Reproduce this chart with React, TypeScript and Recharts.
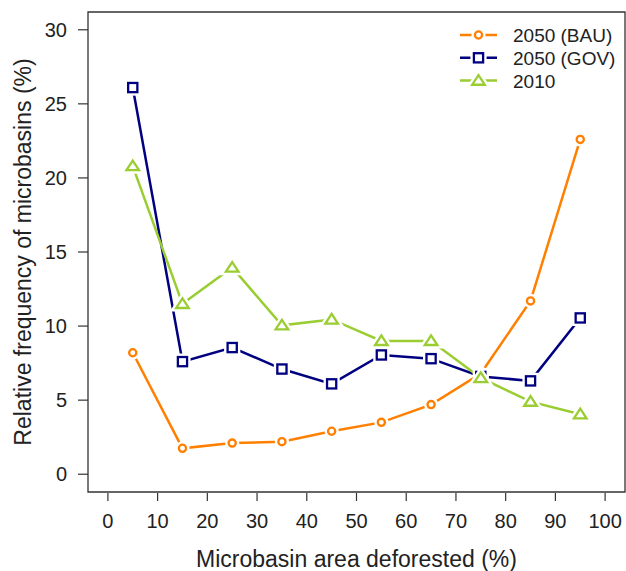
import { LineChart, Line, XAxis, YAxis, ReferenceArea, Label } from "recharts";

const xMid = [5, 15, 25, 35, 45, 55, 65, 75, 85, 95];
const bau = [8.2, 1.75, 2.1, 2.2, 2.9, 3.5, 4.7, 6.8, 11.7, 22.6];
const gov = [26.1, 7.6, 8.55, 7.1, 6.1, 8.05, 7.8, 6.6, 6.3, 10.55];
const y2010 = [20.8, 11.5, 13.95, 10.05, 10.45, 9.0, 9.0, 6.5, 4.9, 4.05];

const xTicks = [0, 10, 20, 30, 40, 50, 60, 70, 80, 90, 100];
const yTicks = [0, 5, 10, 15, 20, 25, 30];

const FONT = '"Liberation Sans", Arial, sans-serif';
const ORANGE = "#FF7F00";
const NAVY = "#000080";
const GREEN = "#9ACD32";

const series = [
  { key: "bau", name: "2050 (BAU)", color: ORANGE, shape: "circle" },
  { key: "gov", name: "2050 (GOV)", color: NAVY, shape: "square" },
  { key: "y2010", name: "2010", color: GREEN, shape: "triangle" },
];

const data = xMid.map((x, i) => ({ x, bau: bau[i], gov: gov[i], y2010: y2010[i] }));

function Marker({ cx, cy, shape, color }: any) {
  if (cx == null || cy == null) return null;
  const draw = (stroke: string, sw: number, fill: string) => {
    if (shape === "circle") return <circle cx={cx} cy={cy} r={3.6} stroke={stroke} strokeWidth={sw} fill={fill} />;
    if (shape === "square")
      return <rect x={cx - 4.6} y={cy - 4.6} width={9.2} height={9.2} stroke={stroke} strokeWidth={sw} fill={fill} />;
    const h = 5.5;
    return (
      <polygon
        points={`${cx},${cy - h} ${cx + 6.3},${cy + h * 0.75} ${cx - 6.3},${cy + h * 0.75}`}
        stroke={stroke}
        strokeWidth={sw}
        fill={fill}
      />
    );
  };
  return (
    <g>
      {draw("#fff", 7, "#fff")}
      {draw(color, 2.3, "#fff")}
    </g>
  );
}

function XTick({ x, y, payload }: any) {
  return (
    <g>
      <line x1={x} x2={x} y1={y + 1} y2={y + 9} stroke="#333" strokeWidth={1.2} />
      <text x={x} y={y + 36} textAnchor="middle" fontSize={20} fill="#222" fontFamily={FONT}>
        {payload.value}
      </text>
    </g>
  );
}

function XTitle({ viewBox }: any) {
  const vb = viewBox || { x: 88, y: 492, width: 537 };
  return (
    <text x={vb.x + vb.width / 2} y={vb.y + 75} textAnchor="middle" fontSize={23} fill="#222" fontFamily={FONT}>
      Microbasin area deforested (%)
    </text>
  );
}

function YTitle({ viewBox }: any) {
  const vb = viewBox || { y: 12, height: 480 };
  const cy = vb.y + vb.height / 2;
  return (
    <text
      x={31}
      y={cy}
      transform={`rotate(-90, 31, ${cy})`}
      textAnchor="middle"
      fontSize={23}
      fill="#222"
      fontFamily={FONT}
    >
      Relative frequency of microbasins (%)
    </text>
  );
}

function LegendBox() {
  return (
    <svg width={170} height={75} style={{ display: "block" }}>
      {series.map((s, i) => {
        const y = 13 + i * 22.8;
        return (
          <g key={s.key}>
            <line x1={5} x2={42} y1={y} y2={y} stroke={s.color} strokeWidth={2.5} />
            <Marker cx={23.5} cy={y} shape={s.shape} color={s.color} />
            <text x={58} y={y + 7} fontSize={19} fill="#222" fontFamily={FONT}>
              {s.name}
            </text>
          </g>
        );
      })}
    </svg>
  );
}

export default function App() {
  return (
    <div style={{ position: "absolute", left: 0, top: 0, width: 626, height: 571, background: "#fff" }}>
      <LineChart width={626} height={571} data={data} margin={{ top: 12, right: 1, bottom: 0, left: 0 }}>
        <XAxis
          dataKey="x"
          type="number"
          domain={[-4, 104]}
          ticks={xTicks}
          allowDataOverflow
          height={79}
          axisLine={false}
          tickLine={false}
          tickSize={0}
          tickMargin={0}
          tick={<XTick />}
          interval={0}
        >
          <Label content={<XTitle />} />
        </XAxis>
        <YAxis
          type="number"
          domain={[-1.2, 31.2]}
          ticks={yTicks}
          allowDataOverflow
          width={88}
          axisLine={false}
          tickSize={10}
          tickMargin={11}
          tickLine={{ stroke: "#333", strokeWidth: 1.2 }}
          tick={{ fontSize: 20, fill: "#222", fontFamily: FONT }}
          interval={0}
        >
          <Label content={<YTitle />} />
        </YAxis>
        <ReferenceArea x1={-4} x2={104} y1={-1.2} y2={31.2} fill="none" stroke="#333" strokeWidth={1.3} />
        {series.map((s) => (
          <Line
            key={s.key}
            dataKey={s.key}
            name={s.name}
            stroke={s.color}
            strokeWidth={2.5}
            type="linear"
            isAnimationActive={false}
            dot={(p: any) => <Marker key={`${s.key}-${p.index}`} cx={p.cx} cy={p.cy} shape={s.shape} color={s.color} />}
            activeDot={false}
          />
        ))}
      </LineChart>
      <div style={{ position: "absolute", top: 22, left: 455 }}>
        <LegendBox />
      </div>
    </div>
  );
}
